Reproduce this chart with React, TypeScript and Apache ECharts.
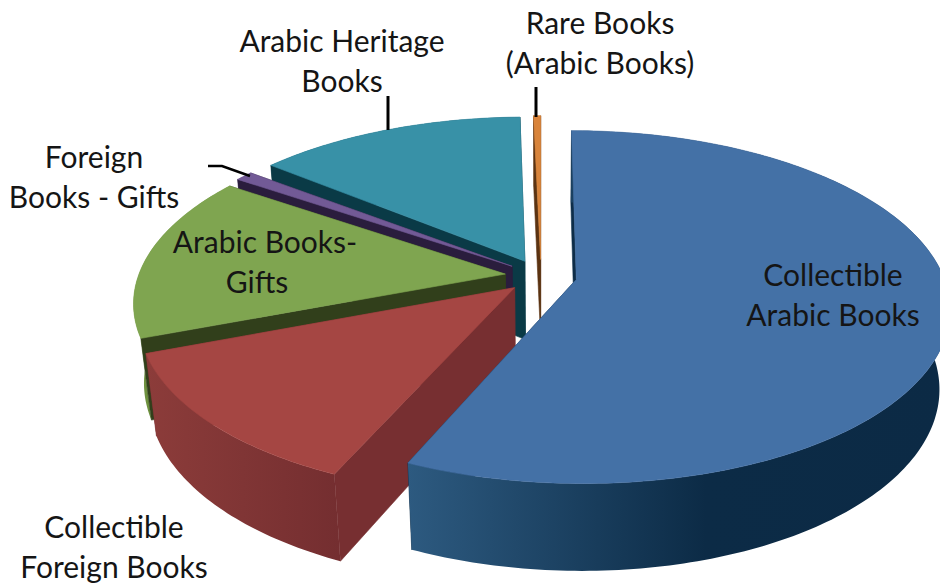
import React, { useEffect, useRef } from "react";
import * as echarts from "echarts";

const categories = [
  "Collectible Arabic Books",
  "Collectible Foreign Books",
  "Arabic Books-Gifts",
  "Foreign Books - Gifts",
  "Arabic Heritage Books",
  "Rare Books (Arabic Books)",
];
const values = [56.65, 12.55, 15.3, 0.9, 14.24, 0.36];
const startTrimDeg = [0, 0, 0, 0, 1.8, 0];
const topColors = ["#4471a6", "#a54643", "#7fa550", "#725a96", "#3891a7", "#d9843b"];
const edgeColors = ["#0e2d48", "#772f31", "#313f1b", "#2a1d3d", "#0a3a46", "#5b3312"];
const wallStops = [
  [[0, "#2d5a80"], [0.55, "#0c2b46"], [1, "#0c2a45"]],
  [[0, "#8c3c3a"], [1, "#742e30"]],
  [[0, "#6f9240"], [1, "#6f9240"]],
  [[0, "#54407a"], [1, "#54407a"]],
  [[0, "#0a3a46"], [1, "#0a3a46"]],
  [[0, "#a8632a"], [1, "#a8632a"]],
];
const paintOrder = [4, 5, 3, 2, 1, 0];

const labelTexts = [
  "Arabic Heritage\nBooks",
  "Rare Books\n(Arabic Books)",
  "Foreign\nBooks - Gifts",
  "Arabic Books-",
  "Gifts",
  "Collectible\nArabic Books",
  "Collectible\nForeign Books",
];
const labelX = [342, 600, 94, 265, 257, 833, 114];
const labelY = [60, 42, 176, 241, 281, 294, 546];

const CX = 541, CY = 276, RX = 367, RY = 171, K = 0.156, DEPTH = 79, EXPLODE = 0.098, FLOOR_SCALE = 0.975;

function project(u: number, v: number, drop: number): number[] {
  const w = 1 - K * v;
  return [CX + (RX * u) / w, CY + (RY * v) / w + drop / w];
}

const total = values.reduce((a, b) => a + b, 0);
const startDeg: number[] = [];
values.reduce((acc, val, i) => {
  startDeg[i] = acc;
  return acc + (val / total) * 360;
}, 0);

function renderSlice(params: any) {
  const i = paintOrder[params.dataIndex];
  const a0raw = startDeg[i];
  const a1 = a0raw + (values[i] / total) * 360;
  const mid = ((a0raw + a1) / 2) * Math.PI / 180;
  const a0 = a0raw + startTrimDeg[i];
  const ou = Math.sin(mid) * EXPLODE;
  const ov = -Math.cos(mid) * EXPLODE;
  const rim: number[][] = [];
  const steps = Math.max(2, Math.ceil(a1 - a0));
  for (let s = 0; s <= steps; s++) {
    const a = ((a0 + ((a1 - a0) * s) / steps) * Math.PI) / 180;
    rim.push([ou + Math.sin(a), ov - Math.cos(a)]);
  }
  const top = rim.map((p) => project(p[0], p[1], 0));
  const low = rim.map((p) => project(p[0] * FLOOR_SCALE, p[1] * FLOOR_SCALE, DEPTH));
  const apexTop = project(ou, ov, 0);
  const apexLow = project(ou * FLOOR_SCALE, ov * FLOOR_SCALE, DEPTH);
  const edge = edgeColors[i];
  const poly = (points: number[][], fill: any, stroke: string) => ({
    type: "polygon",
    shape: { points },
    style: { fill, stroke, lineWidth: 0.6 },
  });
  const wall = [...top, ...low.slice().reverse()];
  const startFace = poly([apexTop, top[0], low[0], apexLow], edge, edge);
  const endFace = poly([apexTop, top[top.length - 1], low[low.length - 1], apexLow], edge, edge);
  const startFront = Math.sin((a0 * Math.PI) / 180) < 0;
  const endFront = Math.sin((a1 * Math.PI) / 180) > 0;
  const wallEl = poly(
    wall,
    new echarts.graphic.LinearGradient(
      0, 0, 1, 0,
      wallStops[i].map((s: any) => ({ offset: s[0], color: s[1] }))
    ),
    "none"
  );
  const backFaces = [...(startFront ? [] : [startFace]), ...(endFront ? [] : [endFace])];
  const frontFaces = [...(startFront ? [startFace] : []), ...(endFront ? [endFace] : [])];
  return {
    type: "group",
    children: [...backFaces, wallEl, ...frontFaces, poly([apexTop, ...top], topColors[i], topColors[i])],
  };
}

export default function App() {
  const ref = useRef<HTMLDivElement>(null);
  useEffect(() => {
    const chart = echarts.init(ref.current!, null, { renderer: "svg" });
    chart.setOption({
      animation: false,
      backgroundColor: "#ffffff",
      series: [
        {
          type: "custom",
          coordinateSystem: "none",
          renderItem: renderSlice,
          data: paintOrder.map((i) => ({ name: categories[i], value: values[i] })),
          silent: true,
        },
      ],
      graphic: [
        { type: "line", z: 5, shape: { x1: 388, y1: 96, x2: 388, y2: 130 }, style: { stroke: "#000", lineWidth: 3 } },
        { type: "line", z: 5, shape: { x1: 536, y1: 87, x2: 536, y2: 117 }, style: { stroke: "#000", lineWidth: 3 } },
        {
          type: "polyline",
          z: 5,
          shape: { points: [[208, 166], [222, 166], [250, 176]] },
          style: { stroke: "#000", lineWidth: 2.5, fill: "none" },
        },
        ...labelTexts.map((text, i) => ({
          type: "text",
          z: 6,
          x: labelX[i],
          y: labelY[i],
          style: {
            text,
            fill: "#151515",
            font: '30px Lato, "Noto Sans", sans-serif',
            lineHeight: 40,
            align: "center",
            verticalAlign: "middle",
          },
        })),
      ],
    });
    return () => chart.dispose();
  }, []);
  return (
    <div
      ref={ref}
      style={{ position: "absolute", left: 0, top: 0, width: 940, height: 588 }}
    />
  );
}
